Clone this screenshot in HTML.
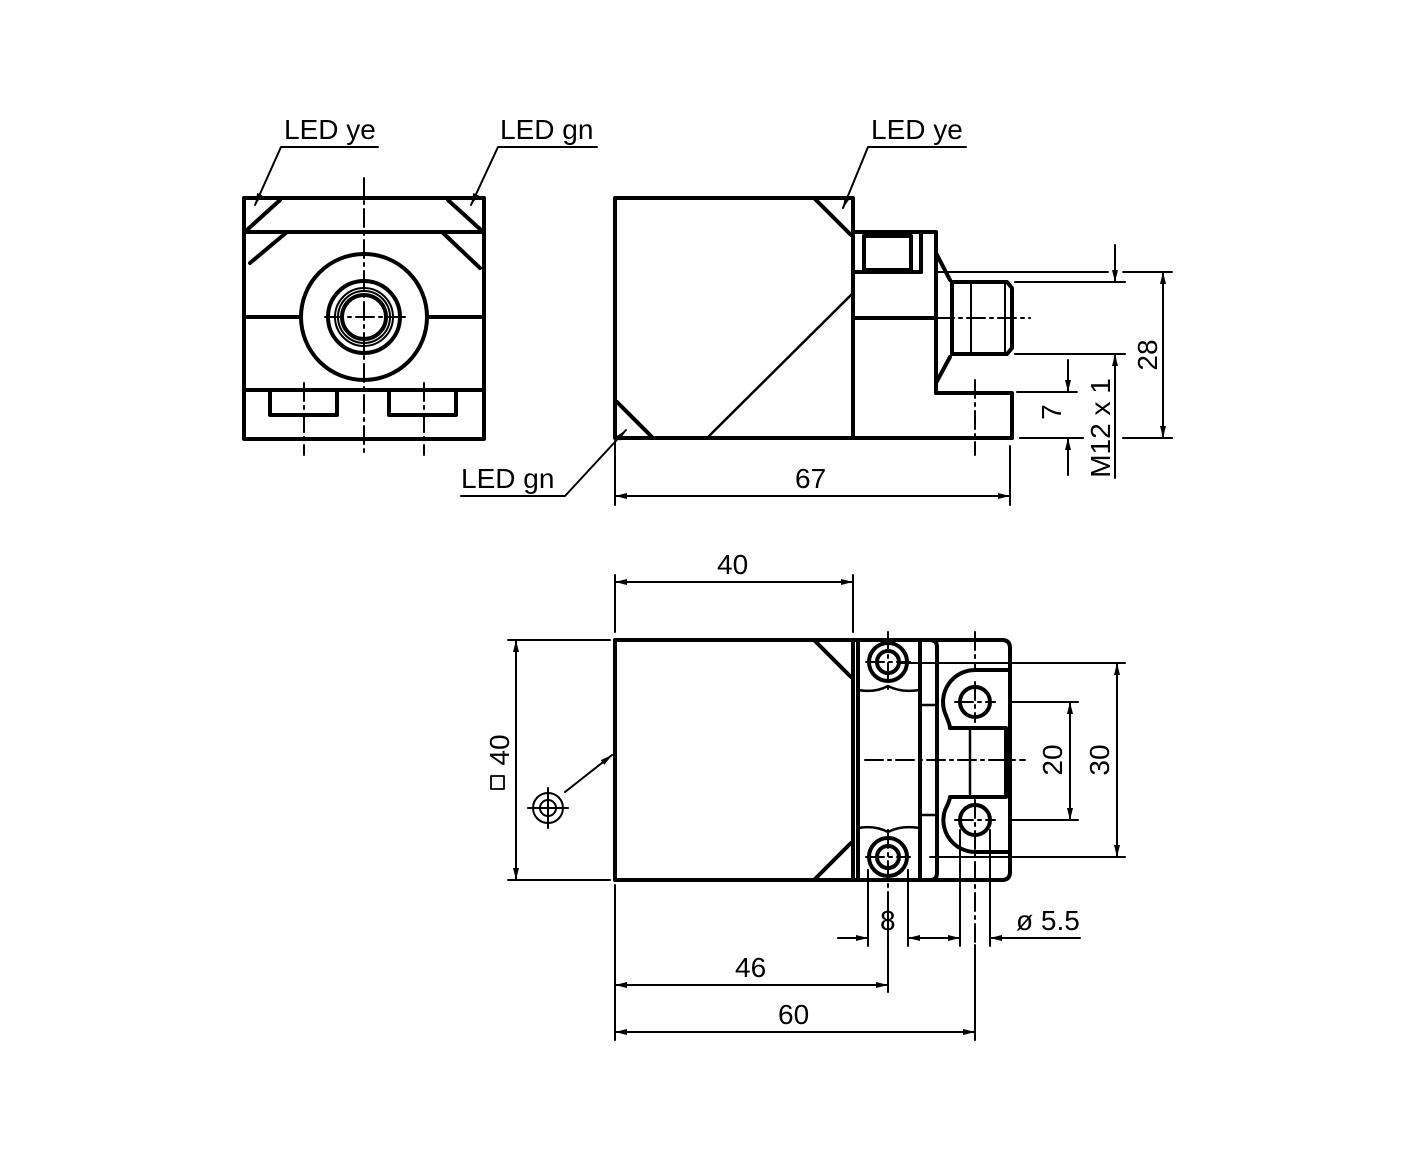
<!DOCTYPE html>
<html><head><meta charset="utf-8"><style>
html,body{margin:0;padding:0;background:#fff}
svg{display:block}
text{font-family:"Liberation Sans",sans-serif;font-size:28px;fill:#000}
</style></head><body>
<svg width="1417" height="1169" viewBox="0 0 1417 1169" xmlns="http://www.w3.org/2000/svg">
<defs>
<marker id="a" viewBox="0 0 12 6" refX="12" refY="3" markerWidth="12" markerHeight="6" orient="auto" markerUnits="userSpaceOnUse"><path d="M0,0 L12,3 L0,6z" fill="#000"/></marker>
</defs>
<g fill="none" stroke="#000" stroke-linecap="round" stroke-linejoin="round">
<g stroke-width="4">
<rect x="244" y="198" width="240" height="241"/>
<line x1="247" y1="232" x2="481" y2="232"/>
<line x1="247" y1="230" x2="280" y2="200"/><line x1="448" y1="200" x2="481" y2="230"/>
<polyline points="250,263 287,232 442,232 480,268"/>
<line x1="247" y1="317" x2="301" y2="317"/><line x1="427" y1="317" x2="481" y2="317"/>
<circle cx="364" cy="317" r="63"/>
<circle cx="364" cy="317" r="36"/>
<circle cx="364" cy="317" r="22"/>
<line x1="244" y1="390" x2="484" y2="390"/>
<polyline points="270,390 270,415 337,415 337,390"/>
<polyline points="389,390 389,415 456,415 456,390"/>
</g>
<circle cx="364" cy="317" r="29" stroke-width="2"/>
<circle cx="364" cy="317" r="26" stroke-width="2"/>
<g stroke-width="2" stroke-dasharray="18,5,3,5">
<line x1="364" y1="178" x2="364" y2="455"/>
<line x1="304" y1="383" x2="304" y2="455"/>
<line x1="424" y1="383" x2="424" y2="455"/>
<line x1="325" y1="317" x2="405" y2="317"/>
</g>
<g stroke-width="4">
<rect x="615" y="198" width="238" height="240"/>
<line x1="815" y1="199" x2="851" y2="235"/>
<line x1="617" y1="402" x2="652" y2="437"/>
<polyline points="853,232 936,232 936,253 950,280"/>
<rect x="864" y="236" width="47" height="34"/>
<line x1="853" y1="272" x2="921" y2="272"/>
<line x1="921" y1="232" x2="921" y2="272"/>
<line x1="853" y1="318" x2="936" y2="318"/>
<line x1="936" y1="253" x2="936" y2="393"/>
<polyline points="950,357 936,383"/>
<path d="M952,282 L1007,282 L1012,288 L1012,348 L1007,354 L952,354 Z"/>
<polyline points="936,393 1012,393 1012,438"/>
<line x1="853" y1="438" x2="1012" y2="438"/>
</g>
<line x1="707" y1="438" x2="853" y2="293" stroke-width="2.5"/>
<line x1="971" y1="282" x2="971" y2="354" stroke-width="2"/>
<line x1="1005" y1="282" x2="1005" y2="354" stroke-width="2"/>
<g stroke-width="2" stroke-dasharray="18,5,3,5">
<line x1="936" y1="318" x2="1030" y2="318"/>
<line x1="975" y1="380" x2="975" y2="455"/>
</g>
<g stroke-width="2">
<line x1="937" y1="272" x2="1108" y2="272"/><line x1="1123" y1="272" x2="1172" y2="272"/>
<line x1="1015" y1="282" x2="1125" y2="282"/>
<line x1="1015" y1="354" x2="1125" y2="354"/>
<line x1="1017" y1="392" x2="1077" y2="392"/>
<line x1="1020" y1="438" x2="1083" y2="438"/><line x1="1123" y1="438" x2="1172" y2="438"/>
<line x1="1115" y1="245" x2="1115" y2="282" marker-end="url(#a)"/>
<line x1="1115" y1="478" x2="1115" y2="354" marker-end="url(#a)"/>
<line x1="1163" y1="300" x2="1163" y2="272" marker-end="url(#a)"/>
<line x1="1163" y1="300" x2="1163" y2="438" marker-end="url(#a)"/>
<line x1="1068" y1="360" x2="1068" y2="392" marker-end="url(#a)"/>
<line x1="1068" y1="475" x2="1068" y2="438" marker-end="url(#a)"/>
<line x1="615" y1="441" x2="615" y2="505"/>
<line x1="1010" y1="446" x2="1010" y2="505"/>
<line x1="640" y1="496" x2="615" y2="496" marker-end="url(#a)"/>
<line x1="640" y1="496" x2="1010" y2="496" marker-end="url(#a)"/>
<polyline points="378,147 281,147 255,205" marker-end="url(#a)"/>
<polyline points="597,147 498,147 471,205" marker-end="url(#a)"/>
<polyline points="966,147 868,147 843,208" marker-end="url(#a)"/>
<polyline points="461,496 565,496 626,430" marker-end="url(#a)"/>
</g>
<g stroke-width="4">
<rect x="615" y="640" width="238" height="240"/>
<line x1="815" y1="641" x2="851" y2="677"/>
<line x1="815" y1="879" x2="851" y2="843"/>
<path d="M853,640 L930,640 Q937,640 937,647 L937,873 Q937,880 930,880 L853,880 Z"/>
<line x1="858" y1="642" x2="858" y2="878"/>
<line x1="920" y1="642" x2="920" y2="878"/>
<path d="M922,640 L1002,640 Q1010,640 1010,648 L1010,872 Q1010,880 1002,880 L922,880"/>
<circle cx="888" cy="662" r="19"/><circle cx="888" cy="662" r="11"/>
<circle cx="888" cy="857" r="19"/><circle cx="888" cy="857" r="11"/>
<circle cx="975" cy="702" r="15"/><circle cx="975" cy="820" r="15"/>
<path d="M1008,670 L975,670 A32,32 0 0 0 945,713 Q950,725 950,728 L1006,728 L1006,797 L950,797 Q950,800 945,810 A32,32 0 0 0 975,852 L1008,852"/>
</g>
<g stroke-width="2.5">
<path d="M858,690 Q875,693 888,686 Q901,693 920,690"/>
<path d="M858,828 Q875,825 888,832 Q901,825 920,828"/>
<line x1="970" y1="728" x2="970" y2="797"/>
<line x1="920" y1="705" x2="937" y2="705"/>
<line x1="920" y1="815" x2="937" y2="815"/>
</g>
<g stroke-width="2" stroke-dasharray="18,5,3,5">
<line x1="865" y1="760" x2="1025" y2="760"/>
<line x1="888" y1="632" x2="888" y2="690"/>
<line x1="888" y1="830" x2="888" y2="900"/>
<line x1="975" y1="632" x2="975" y2="670"/>
<line x1="955" y1="702" x2="995" y2="702"/>
<line x1="955" y1="820" x2="995" y2="820"/>
<line x1="975" y1="682" x2="975" y2="722"/>
<line x1="975" y1="800" x2="975" y2="945"/>
<line x1="866" y1="662" x2="910" y2="662"/>
<line x1="866" y1="857" x2="910" y2="857"/>
</g>
<g stroke-width="2">
<line x1="615" y1="575" x2="615" y2="632"/><line x1="853" y1="575" x2="853" y2="632"/>
<line x1="700" y1="582" x2="615" y2="582" marker-end="url(#a)"/>
<line x1="700" y1="582" x2="853" y2="582" marker-end="url(#a)"/>
<line x1="508" y1="640" x2="610" y2="640"/><line x1="508" y1="880" x2="610" y2="880"/>
<line x1="516" y1="700" x2="516" y2="640" marker-end="url(#a)"/>
<line x1="516" y1="700" x2="516" y2="880" marker-end="url(#a)"/>
<rect x="491" y="776" width="13" height="13" stroke-width="1.8"/>
<circle cx="548" cy="808" r="15"/><circle cx="548" cy="808" r="8"/>
<line x1="528" y1="808" x2="568" y2="808"/><line x1="548" y1="788" x2="548" y2="828"/>
<line x1="565" y1="792" x2="612" y2="755" marker-end="url(#a)"/>
<line x1="900" y1="663" x2="1125" y2="663"/>
<line x1="930" y1="857" x2="1125" y2="857"/>
<line x1="1010" y1="702" x2="1078" y2="702"/>
<line x1="1010" y1="820" x2="1078" y2="820"/>
<line x1="1117" y1="760" x2="1117" y2="663" marker-end="url(#a)"/>
<line x1="1117" y1="760" x2="1117" y2="857" marker-end="url(#a)"/>
<line x1="1070" y1="760" x2="1070" y2="702" marker-end="url(#a)"/>
<line x1="1070" y1="760" x2="1070" y2="820" marker-end="url(#a)"/>
<line x1="868" y1="870" x2="868" y2="946"/><line x1="908" y1="870" x2="908" y2="946"/>
<line x1="838" y1="938" x2="868" y2="938" marker-end="url(#a)"/>
<line x1="935" y1="938" x2="908" y2="938" marker-end="url(#a)"/>
<line x1="960" y1="830" x2="960" y2="946"/><line x1="990" y1="830" x2="990" y2="946"/>
<line x1="935" y1="938" x2="960" y2="938" marker-end="url(#a)"/>
<line x1="1080" y1="938" x2="990" y2="938" marker-end="url(#a)"/>
<line x1="615" y1="885" x2="615" y2="1040"/>
<line x1="888" y1="900" x2="888" y2="992"/>
<line x1="975" y1="945" x2="975" y2="1040"/>
<line x1="700" y1="985" x2="615" y2="985" marker-end="url(#a)"/>
<line x1="700" y1="985" x2="888" y2="985" marker-end="url(#a)"/>
<line x1="700" y1="1032" x2="615" y2="1032" marker-end="url(#a)"/>
<line x1="700" y1="1032" x2="975" y2="1032" marker-end="url(#a)"/>
</g>
</g>
<text x="284" y="139">LED ye</text>
<text x="500" y="139">LED gn</text>
<text x="871" y="139">LED ye</text>
<text x="461" y="488">LED gn</text>
<text x="795" y="488">67</text>
<text transform="translate(1157,355) rotate(-90)" text-anchor="middle">28</text>
<text transform="translate(1061,412) rotate(-90)" text-anchor="middle">7</text>
<text transform="translate(1110,428) rotate(-90)" text-anchor="middle">M12 x 1</text>
<text x="717" y="574">40</text>
<text transform="translate(509,750) rotate(-90)" text-anchor="middle">40</text>
<text transform="translate(1062,760) rotate(-90)" text-anchor="middle">20</text>
<text transform="translate(1109,760) rotate(-90)" text-anchor="middle">30</text>
<text x="880" y="930">8</text>
<text x="1016" y="930">ø 5.5</text>
<text x="735" y="977">46</text>
<text x="778" y="1024">60</text>
</svg>
</body></html>
